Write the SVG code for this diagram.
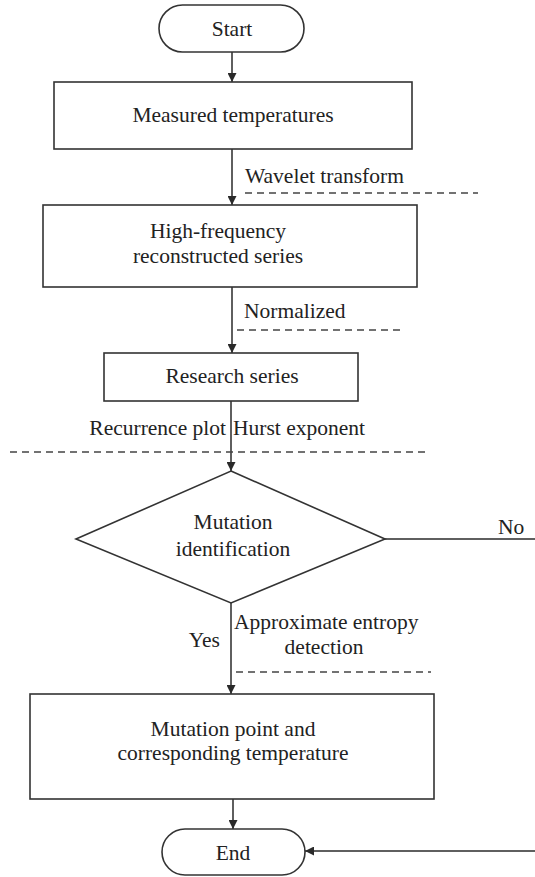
<svg xmlns="http://www.w3.org/2000/svg" width="535" height="877" viewBox="0 0 535 877">
<defs>
<marker id="arr" viewBox="0 0 10 10" refX="10" refY="5" markerWidth="9" markerHeight="9" markerUnits="userSpaceOnUse" orient="auto">
<path d="M0,0 L10,5 L0,10 z" fill="#2a2a2a"/>
</marker>
<style>
.box{fill:#fff;stroke:#333;stroke-width:1.6}
.ln{fill:none;stroke:#2a2a2a;stroke-width:1.5}
.dash{fill:none;stroke:#444;stroke-width:1.3;stroke-dasharray:7 5}
text{font-family:"Liberation Serif","Times New Roman",serif;font-size:21.5px;fill:#222}
.c{text-anchor:middle}
.e{text-anchor:end}
</style>
</defs>
<rect width="535" height="877" fill="#fff"/>
<g id="connectors">
<line class="ln" x1="232" y1="52" x2="232" y2="82" marker-end="url(#arr)"/>
<line class="ln" x1="232" y1="149" x2="232" y2="205" marker-end="url(#arr)"/>
<line class="ln" x1="232" y1="287" x2="232" y2="353" marker-end="url(#arr)"/>
<line class="ln" x1="231" y1="401" x2="231" y2="471" marker-end="url(#arr)"/>
<line class="ln" x1="231" y1="603" x2="231" y2="694" marker-end="url(#arr)"/>
<line class="ln" x1="233" y1="799" x2="233" y2="829" marker-end="url(#arr)"/>
<line class="ln" x1="385" y1="539" x2="535" y2="539"/>
<line class="ln" x1="535" y1="851" x2="305" y2="851" marker-end="url(#arr)"/>
<line class="dash" x1="245" y1="193" x2="478" y2="193"/>
<line class="dash" x1="237" y1="330" x2="404" y2="330"/>
<line class="dash" x1="10" y1="452" x2="427" y2="452"/>
<line class="dash" x1="236" y1="672" x2="431" y2="672"/>
<text x="245" y="183">Wavelet transform</text>
<text x="244" y="318">Normalized</text>
<text class="e" x="226" y="435">Recurrence plot</text>
<text x="233" y="435">Hurst exponent</text>
<text x="498" y="534">No</text>
<text class="e" x="220" y="647">Yes</text>
<text x="234" y="629">Approximate entropy</text>
<text class="c" x="324" y="654">detection</text>
</g>
<g id="start">
<rect class="box" x="159" y="5" width="145" height="47" rx="23.5"/>
<text class="c" x="232" y="36">Start</text>
</g>
<g id="measured">
<rect class="box" x="54" y="82" width="358" height="67"/>
<text class="c" x="233" y="122">Measured temperatures</text>
</g>
<g id="highfreq">
<rect class="box" x="43" y="205" width="374" height="82"/>
<text class="c" x="218" y="238">High-frequency</text>
<text class="c" x="218" y="263">reconstructed series</text>
</g>
<g id="research">
<rect class="box" x="104" y="353" width="254" height="48"/>
<text class="c" x="232" y="383">Research series</text>
</g>
<g id="decision">
<polygon class="box" points="231,471 385,539 231,603 76,539"/>
<text class="c" x="233" y="529">Mutation</text>
<text class="c" x="233" y="556">identification</text>
</g>
<g id="mutation">
<rect class="box" x="30" y="694" width="404" height="105"/>
<text class="c" x="233" y="736">Mutation point and</text>
<text class="c" x="233" y="760">corresponding temperature</text>
</g>
<g id="end">
<rect class="box" x="162" y="829" width="143" height="46" rx="23"/>
<text class="c" x="233" y="860">End</text>
</g>
</svg>
